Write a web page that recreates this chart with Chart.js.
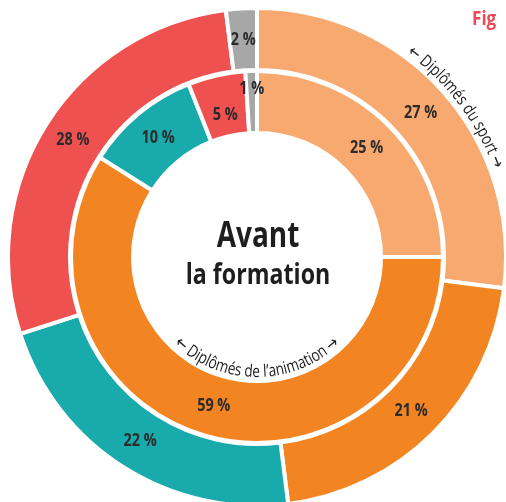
<!DOCTYPE html>
<html lang="fr">
<head>
<meta charset="utf-8">
<title>Avant la formation</title>
<script src="https://cdn.jsdelivr.net/npm/chart.js@4"></script>
<style>
  html, body { margin: 0; padding: 0; background: #fff; width: 506px; height: 502px; overflow: hidden; }
  #wrap { position: relative; width: 506px; height: 502px; overflow: hidden; }
  #grafik { position: absolute; left: 6px; top: 6px; }
  #fig {
    position: absolute; left: 472px; top: 5px;
    font: bold 19px "Open Sans", sans-serif; color: #EE4A55;
    transform: scaleX(0.9); transform-origin: left top;
  }
</style>
</head>
<body>
<div id="wrap">
  <canvas id="grafik" width="502" height="502"></canvas>
  <div id="fig">Fig</div>
</div>
<script>
// Catégories (ordre horaire depuis le haut)
const categories = ["Sport", "Animation", "Teal", "Rouge", "Autre"];
// Anneau extérieur / anneau intérieur (en %)
const valeursExterieur = [27, 21, 22, 28, 2];
const valeursInterieur = [25, 59, 10, 5, 1];
const couleurs = ["#F8A96F", "#F28522", "#19AAAC", "#EF5050", "#A7A7A7"];

const titreCentre = ["Avant", "la formation"];
const texteExterieur = "\u2190 Diplômés du sport \u2192";
const texteInterieur = "\u2190 Diplômés de l\u2019animation \u2192";

// petits réglages de placement des étiquettes (px, sur le rayon)
const decalageExterieur = [0, 0, 0, 0, 0];
const decalageInterieur = [0, 0, 0, -9, 13];

const police = '"Open Sans", sans-serif';
const etroit = 0.8; // Open Sans compressée pour imiter une police condensée

function texteEtroit(ctx, texte, x, y) {
  ctx.save();
  ctx.translate(x, y);
  ctx.scale(etroit, 1);
  ctx.fillText(texte, 0, 0);
  ctx.restore();
}

// texte courbe le long d'un cercle (les flèches en DejaVu, plus longues)
function texteCourbe(ctx, texte, cx, cy, rayon, angleCentre, versExterieur, taille) {
  ctx.save();
  ctx.textAlign = "center";
  ctx.textBaseline = "alphabetic";
  const policeCar = ch => (ch === "\u2190" || ch === "\u2192")
    ? taille + 'px "DejaVu Sans"' : taille + "px " + police;
  const largeur = ch => { ctx.font = policeCar(ch); return ctx.measureText(ch).width * etroit; };
  let largeurTotale = 0;
  for (const ch of texte) largeurTotale += largeur(ch);
  const sens = versExterieur ? 1 : -1;
  let angle = angleCentre - sens * (largeurTotale / rayon) / 2;
  for (const ch of texte) {
    const w = largeur(ch);
    const a = angle + sens * (w / rayon) / 2;
    ctx.save();
    ctx.translate(cx + rayon * Math.sin(a), cy - rayon * Math.cos(a));
    ctx.rotate(versExterieur ? a : a - Math.PI);
    ctx.scale(etroit, 1);
    ctx.fillText(ch, 0, 0);
    ctx.restore();
    angle += sens * w / rayon;
  }
  ctx.restore();
}

const etiquettesPlugin = {
  id: "etiquettes",
  afterDatasetsDraw(chart) {
    const ctx = chart.ctx;
    ctx.save();
    ctx.fillStyle = "#2B2B2B";
    ctx.font = "bold 18px " + police;
    ctx.textAlign = "center";
    ctx.textBaseline = "middle";

    const decalages = { 0: decalageExterieur, 2: decalageInterieur };
    [0, 2].forEach(i => {
      const meta = chart.getDatasetMeta(i);
      const valeurs = chart.data.datasets[i].data;
      meta.data.forEach((arc, j) => {
        const p = arc.getProps(["x", "y", "startAngle", "endAngle", "innerRadius", "outerRadius"], true);
        const milieu = (p.startAngle + p.endAngle) / 2;
        const r = (p.innerRadius + p.outerRadius) / 2 + decalages[i][j];
        texteEtroit(ctx, valeurs[j] + " %", p.x + r * Math.cos(milieu), p.y + r * Math.sin(milieu));
      });
    });

    // titre au centre
    const m = chart.getDatasetMeta(2).data[0];
    const cx = m.x, cy = m.y;
    ctx.fillStyle = "#1E1E1E";
    ctx.textBaseline = "alphabetic";
    ctx.font = "bold 35px " + police;
    texteEtroit(ctx, titreCentre[0], cx + 1, cy - 10);
    ctx.font = "bold 29px " + police;
    texteEtroit(ctx, titreCentre[1], cx + 1, cy + 27);

    // libellés courbes
    ctx.fillStyle = "#1E1E1E";
    texteCourbe(ctx, texteExterieur, cx, cy, 253, 53 * Math.PI / 180, true, 17);
    texteCourbe(ctx, texteInterieur, cx, cy, 120, Math.PI, false, 17);
    ctx.restore();
  }
};

new Chart(document.getElementById("grafik"), {
  type: "doughnut",
  data: {
    labels: categories,
    datasets: [
      { data: valeursExterieur, backgroundColor: couleurs, borderColor: "#fff", borderWidth: 4, weight: 62 },
      { data: [1], backgroundColor: "rgba(0,0,0,0)", borderWidth: 0, weight: 1 },
      { data: valeursInterieur, backgroundColor: couleurs, borderColor: "#fff", borderWidth: 4, weight: 62 }
    ]
  },
  options: {
    responsive: false,
    animation: false,
    events: [],
    devicePixelRatio: 1,
    cutout: "49.8%",
    plugins: {
      legend: { display: false },
      tooltip: { enabled: false }
    }
  },
  plugins: [etiquettesPlugin]
});
</script>
</body>
</html>
